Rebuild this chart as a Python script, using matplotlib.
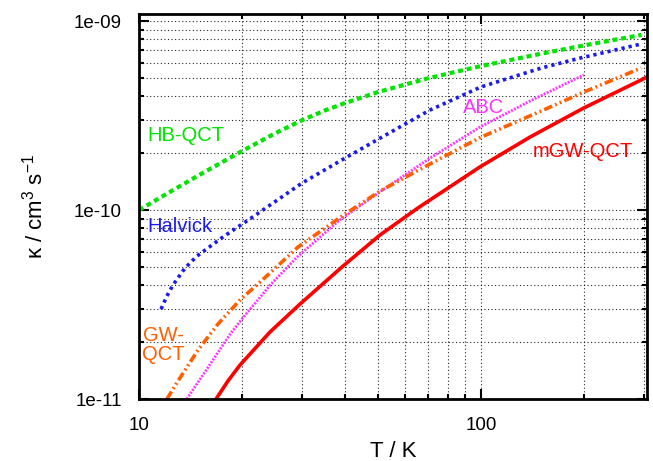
import matplotlib
matplotlib.use("Agg")
import matplotlib.pyplot as plt
from matplotlib.ticker import FixedLocator, LogLocator, NullFormatter

plt.rcParams['font.family'] = ['Liberation Sans', 'DejaVu Sans']
plt.rcParams['mathtext.fontset'] = 'custom'
plt.rcParams['mathtext.rm'] = 'Liberation Sans'
plt.rcParams['mathtext.it'] = 'Liberation Sans'

# Rate coefficients (cm^3 s^-1) versus temperature (K)
hb_T = [10, 12, 15, 20, 25, 30, 35, 40, 50, 70, 100, 150, 200, 295]
hb_k = [1.0e-10, 1.213e-10, 1.533e-10, 2.05e-10, 2.546e-10, 2.99e-10, 3.367e-10,
        3.68e-10, 4.21e-10, 4.98e-10, 5.78e-10, 6.72e-10, 7.43e-10, 8.45e-10]

halvick_T = [11.6, 12.07, 12.57, 13.63, 14.78, 17.6, 21.5, 30.0, 40.6, 50.7,
             70.9, 100, 150, 195, 294]
halvick_k = [2.99e-11, 3.51e-11, 4.01e-11, 4.93e-11, 5.71e-11, 7.2e-11, 9.18e-11,
             1.39e-10, 1.91e-10, 2.40e-10, 3.38e-10, 4.48e-10, 5.64e-10, 6.37e-10,
             7.56e-10]

abc_T = [13.8, 15.1, 18.5, 19.8, 24.2, 29.0, 38.7, 50.7, 70.9, 99.4, 139, 200]
abc_k = [1.0e-11, 1.275e-11, 2.21e-11, 2.59e-11, 4.01e-11, 5.64e-11, 8.87e-11,
         1.25e-10, 1.88e-10, 2.75e-10, 3.77e-10, 5.19e-10]

gw_T = [12.07, 13.0, 14.88, 17.02, 19.74, 24.16, 29.17, 40.03, 50.7, 70.0,
        100, 150, 200, 294]
gw_k = [1.0e-11, 1.245e-11, 1.816e-11, 2.494e-11, 3.34e-11, 4.64e-11, 6.37e-11,
        9.52e-11, 1.26e-10, 1.73e-10, 2.43e-10, 3.34e-10, 4.21e-10, 5.64e-10]

mgw_T = [16.8, 18.2, 19.74, 24.16, 29.57, 39.5, 50.7, 65.4, 99.3, 139, 200, 305.8]
mgw_k = [1.0e-11, 1.245e-11, 1.513e-11, 2.262e-11, 3.18e-11, 5.05e-11, 7.38e-11,
         1.025e-10, 1.69e-10, 2.43e-10, 3.47e-10, 5.05e-10]

x_ticks = [10, 100]
x_tick_labels = ['10', '100']
y_ticks = [1e-11, 1e-10, 1e-9]
y_tick_labels = ['1e-11', '1e-10', '1e-09']

fig = plt.figure(figsize=(6.53, 4.61), dpi=100)
ax = fig.add_axes([139 / 653, 62 / 461, 508 / 653, 385 / 461])
ax.set_xscale('log')
ax.set_yscale('log')
ax.set_xlim(10, 306)
ax.set_ylim(1e-11, 1.09e-9)

# grid on every major and minor tick
ax.grid(True, which='both', color='black', linestyle=(0, (1, 2.2)), linewidth=0.8, alpha=0.85)
ax.set_axisbelow(True)

ax.plot(hb_T, hb_k, color='#00e400', linewidth=3.0, dashes=(1.2, 0.9), solid_capstyle='butt')
ax.plot(halvick_T, halvick_k, color='#1a1aee', linewidth=2.6, dashes=(0.9, 1.1))
ax.plot(abc_T, abc_k, color='#ff33ff', linewidth=2.0, dashes=(0.7, 0.5))
ax.plot(gw_T, gw_k, color='#ff5f00', linewidth=2.6, dashes=(2.4, 0.9, 0.5, 0.9, 0.5, 0.9))
ax.plot(mgw_T, mgw_k, color='#ff0000', linewidth=2.6, clip_on=True)

label_size = 14.5
ax.text(13.7, 2.47e-10, 'HB-QCT', color='#00e400', fontsize=label_size, ha='center', va='center')
ax.text(13.2, 8.2e-11, 'Halvick', color='#1a1aee', fontsize=label_size, ha='center', va='center')
ax.text(102, 3.47e-10, 'ABC', color='#ff33ff', fontsize=label_size, ha='center', va='center')
ax.text(198, 2.05e-10, 'mGW-QCT', color='#ff0000', fontsize=label_size, ha='center', va='center')
ax.text(11.75, 1.93e-11, 'GW-\nQCT', color='#ff5f00', fontsize=label_size, ha='center',
        va='center', multialignment='center', linespacing=1.05)

ax.xaxis.set_major_locator(FixedLocator(x_ticks))
ax.set_xticklabels(x_tick_labels)
ax.xaxis.set_minor_locator(LogLocator(base=10, subs=range(2, 10)))
ax.xaxis.set_minor_formatter(NullFormatter())
ax.yaxis.set_major_locator(FixedLocator(y_ticks))
ax.set_yticklabels(y_tick_labels)
ax.yaxis.set_minor_locator(LogLocator(base=10, subs=range(2, 10)))
ax.yaxis.set_minor_formatter(NullFormatter())

ax.tick_params(which='both', direction='in', top=True, right=True, width=1.5, labelsize=13.5)
ax.tick_params(which='major', length=7)
ax.tick_params(axis='x', which='major', pad=13)
ax.tick_params(axis='y', which='major', pad=12.5)
ax.tick_params(which='minor', length=3.5)
for s in ax.spines.values():
    s.set_linewidth(2.0)

ax.set_xlabel('T / K', fontsize=16, labelpad=5)
ax.set_ylabel(r'κ / cm$^{3}$ s$^{-1}$', fontsize=16, labelpad=19)

fig.savefig('out.png', dpi=100)
